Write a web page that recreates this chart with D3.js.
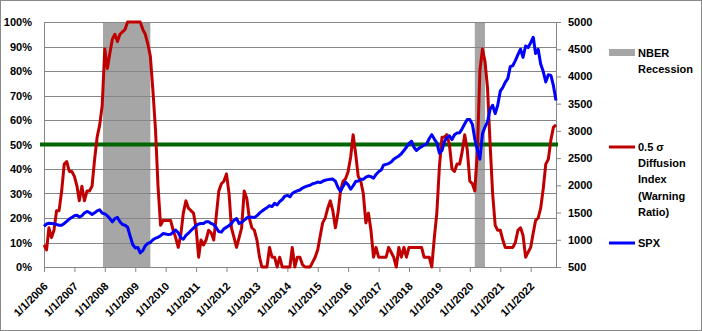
<!DOCTYPE html>
<html>
<head>
<meta charset="utf-8">
<script src="https://cdn.jsdelivr.net/npm/d3@7"></script>
<style>
body { margin: 0; background: #fff; }
svg { display: block; font-family: "Liberation Sans", Arial, sans-serif; font-weight: bold; font-size: 11px; }
</style>
</head>
<body>
<svg id="chart" width="702" height="331"></svg>
<script>
// monthly series, first point = Jan 2006, last point = Nov 2022
var firstMonth = [2006, 0];

var xTickLabels = ["1/1/2006", "1/1/2007", "1/1/2008", "1/1/2009", "1/1/2010", "1/1/2011",
    "1/1/2012", "1/1/2013", "1/1/2014", "1/1/2015", "1/1/2016", "1/1/2017", "1/1/2018",
    "1/1/2019", "1/1/2020", "1/1/2021", "1/1/2022"];

var leftTicks = [0, 0.1, 0.2, 0.3, 0.4, 0.5, 0.6, 0.7, 0.8, 0.9, 1];
var rightTicks = [500, 1000, 1500, 2000, 2500, 3000, 3500, 4000, 4500, 5000];

var recessions = [["2007-12-10", "2009-07-01"], ["2020-03-01", "2020-07-01"]];

var warningLevel = 50;

// 0.5 sigma diffusion index, percent
var diffusion = [
    9, 7, 16, 12, 15, 23, 23, 31, 42, 43, 39, 39,
    37, 33, 27, 33, 27, 31, 31, 33, 44, 53, 58, 66,
    89, 81, 87, 93, 95, 92, 95, 96, 97, 100, 100, 100,
    100, 100, 100, 97, 95, 91, 86, 72, 56, 33, 17, 19,
    19, 19, 19, 15, 12, 8, 13, 22, 27, 24, 23, 22,
    16, 4, 11, 9, 11, 15, 14, 11, 21, 31, 34, 35,
    38, 30, 16, 12, 8, 12, 16, 31, 28, 20, 16, 15,
    11, 4, 0, 0, 0, 8, 4, 4, 0, 4, 0, 0,
    0, 0, 8, 0, 4, 4, 1, 0, 0, 0, 2, 4,
    7, 13, 18, 20, 24, 27, 23, 16, 22, 31, 35, 36,
    39, 45, 54, 46, 37, 35, 30, 18, 22, 15, 4, 8,
    4, 4, 4, 4, 8, 6, 4, 0, 8, 4, 8, 4,
    8, 8, 8, 8, 8, 8, 4, 4, 4, 0, 12, 22,
    41, 53, 53, 54, 50, 40, 39, 42, 42, 47, 54, 48,
    35, 34, 31, 47, 80, 89, 84, 73, 50, 30, 17, 15,
    15, 11, 8, 8, 8, 8, 10, 15, 16, 13, 4, 6,
    8, 14, 19, 20, 24, 32, 42, 44, 52, 57, 58
];

var spx = [
    1248, 1290, 1305, 1300, 1295, 1280, 1268, 1268, 1300, 1340, 1380, 1410,
    1440, 1450, 1420, 1440, 1490, 1520, 1500, 1465, 1495, 1530, 1550, 1490,
    1475, 1440, 1390, 1330, 1390, 1410, 1330, 1280, 1266, 1230, 1065, 913,
    850, 860, 760, 800, 890, 935, 950, 1000, 1030, 1045, 1075, 1115,
    1105, 1095, 1100, 1140, 1180, 1130, 1040, 1010, 1080, 1120, 1170, 1215,
    1260, 1290, 1300, 1300, 1330, 1330, 1300, 1280, 1220, 1150, 1140, 1200,
    1230, 1260, 1300, 1360, 1390, 1300, 1320, 1360, 1400, 1420, 1415, 1410,
    1440, 1490, 1525, 1560, 1590, 1625, 1610, 1670, 1640, 1700, 1740, 1800,
    1815, 1790, 1850, 1880, 1900, 1915, 1950, 1970, 1990, 2000, 2030, 2040,
    2060, 2050, 2075, 2095, 2105, 2110, 2115, 2075, 1960, 1890, 1980, 2060,
    2010, 1930, 1990, 2070, 2080, 2110, 2110, 2150, 2170, 2160, 2130, 2200,
    2250, 2280, 2370, 2385, 2400, 2430, 2480, 2510, 2540, 2580, 2640, 2700,
    2770, 2810, 2700, 2640, 2680, 2710, 2740, 2760, 2860, 2930, 2850, 2780,
    2590, 2640, 2800, 2880, 2910, 2840, 2930, 2960, 2965, 3040, 3130, 3210,
    3210, 3120, 2850, 2650, 2480, 2950, 3070, 3170, 3400, 3470, 3320, 3470,
    3730, 3800, 3890, 3960, 4180, 4200, 4290, 4400, 4500, 4350, 4560, 4530,
    4620, 4720, 4420, 4500, 4230, 4090, 3900, 4030, 4020, 3830, 3560
];

var width = 702;
var height = 331;
var margin = { left: 44, right: 146, top: 22, bottom: 64 };

var svg = d3.select("#chart");

var monthDate = function (i) { return new Date(firstMonth[0], firstMonth[1] + i, 1); };
var parseDay = d3.timeParse("%Y-%m-%d");

var x = d3.scaleTime()
    .domain([monthDate(0), monthDate(diffusion.length - 1)])
    .range([margin.left, width - margin.right]);
var yPct = d3.scaleLinear().domain([0, 1]).range([height - margin.bottom, margin.top]);
var ySpx = d3.scaleLinear().domain([500, 5000]).range([height - margin.bottom, margin.top]);

// chart border
svg.append("rect")
    .attr("x", 0.5).attr("y", 0.5)
    .attr("width", width - 1).attr("height", height - 1)
    .attr("fill", "#fff").attr("stroke", "#898989");

// recession bands
svg.append("g").selectAll("rect")
    .data(recessions)
    .enter().append("rect")
    .attr("x", d => x(parseDay(d[0])))
    .attr("width", d => x(parseDay(d[1])) - x(parseDay(d[0])))
    .attr("y", yPct(1))
    .attr("height", yPct(0) - yPct(1))
    .attr("fill", "#a6a6a6");

// gridlines
svg.append("g").selectAll("line")
    .data(leftTicks)
    .enter().append("line")
    .attr("x1", margin.left).attr("x2", width - margin.right)
    .attr("y1", d => Math.round(yPct(d)) + 0.5)
    .attr("y2", d => Math.round(yPct(d)) + 0.5)
    .attr("stroke", "#868686");

// left axis
var left = svg.append("g")
    .attr("transform", "translate(" + margin.left + ",0)")
    .call(d3.axisLeft(yPct).tickValues(leftTicks).tickFormat(d3.format(".0%")).tickSize(0).tickPadding(12));
left.select(".domain").attr("stroke", "#868686");
left.selectAll("text").attr("fill", "#000").style("font-size", "11px").style("font-family", null);

// right axis
var right = svg.append("g")
    .attr("transform", "translate(" + (width - margin.right) + ",0)")
    .call(d3.axisRight(ySpx).tickValues(rightTicks).tickFormat(d3.format("d")).tickSize(5).tickPadding(7));
right.select(".domain").attr("stroke", "#868686");
right.selectAll("line").attr("stroke", "#868686");
right.selectAll("text").attr("fill", "#000").style("font-size", "11px").style("font-family", null);

// bottom axis
var tickDates = xTickLabels.map(d => d3.timeParse("%m/%d/%Y")(d));
var bottom = svg.append("g")
    .attr("transform", "translate(0," + (height - margin.bottom) + ")")
    .call(d3.axisBottom(x).tickValues(tickDates).tickSize(5).tickSizeOuter(0).tickFormat((d, i) => xTickLabels[i]));
bottom.select(".domain").attr("stroke", "#868686");
bottom.selectAll("line").attr("stroke", "#868686");
bottom.selectAll("text")
    .attr("fill", "#000")
    .style("font-size", "11px").style("font-family", null)
    .attr("text-anchor", "end")
    .attr("dy", null)
    .attr("y", 0)
    .attr("transform", "translate(4,20) rotate(-45)");

// warning level line
svg.append("line")
    .attr("x1", x.range()[0] - 4).attr("x2", x.range()[1] + 2)
    .attr("y1", yPct(warningLevel / 100)).attr("y2", yPct(warningLevel / 100))
    .attr("stroke", "#006400").attr("stroke-width", 4);

// diffusion index
var redLine = d3.line()
    .x((d, i) => x(monthDate(i)))
    .y(d => yPct(d / 100));
svg.append("path")
    .datum(diffusion)
    .attr("d", redLine)
    .attr("fill", "none")
    .attr("stroke", "#c00000")
    .attr("stroke-width", 3)
    .attr("stroke-linejoin", "round");

// SPX
var blueLine = d3.line()
    .x((d, i) => x(monthDate(i)))
    .y(d => ySpx(d));
svg.append("path")
    .datum(spx)
    .attr("d", blueLine)
    .attr("fill", "none")
    .attr("stroke", "#0000ff")
    .attr("stroke-width", 3)
    .attr("stroke-linejoin", "round");

// legend
var legend = svg.append("g").attr("transform", "translate(609,0)");
legend.append("rect")
    .attr("x", 0).attr("y", 49).attr("width", 26).attr("height", 7)
    .attr("fill", "#a6a6a6");
legend.append("line")
    .attr("x1", 0).attr("x2", 26).attr("y1", 147).attr("y2", 147)
    .attr("stroke", "#c00000").attr("stroke-width", 3);
legend.append("line")
    .attr("x1", 0).attr("x2", 26).attr("y1", 243).attr("y2", 243)
    .attr("stroke", "#0000ff").attr("stroke-width", 3);

var legendText = [
    { y: 53, lines: ["NBER", "Recession"] },
    { y: 147, lines: ["0.5 σ", "Diffusion", "Index", "(Warning", "Ratio)"] },
    { y: 243, lines: ["SPX"] }
];
legendText.forEach(function (item) {
    var t = legend.append("text").attr("x", 29).attr("y", item.y).attr("dy", "0.35em");
    item.lines.forEach(function (line, i) {
        t.append("tspan").attr("x", 29).attr("dy", i === 0 ? "0.35em" : 16.3).text(line);
    });
});
</script>
</body>
</html>
